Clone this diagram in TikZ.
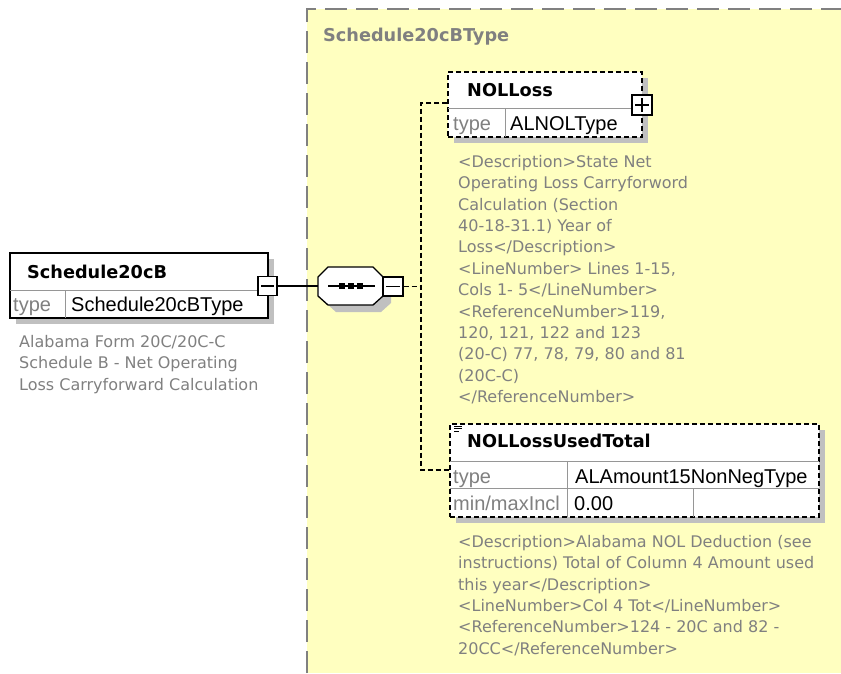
\documentclass[tikz,border=0pt]{standalone}
\usepackage{fontspec}
\setmainfont{DejaVu Sans}
\newfontfamily\arialfont{Liberation Sans}
\usetikzlibrary{shadows}
\definecolor{typebg}{RGB}{255,255,192}
\definecolor{descgray}{RGB}{128,128,128}
\definecolor{shadowgray}{RGB}{192,192,192}
\definecolor{rulegray}{RGB}{150,150,150}
\tikzstyle{elem}=[rectangle,draw=black,fill=white,line width=1.3pt,inner sep=0,drop shadow={shadow xshift=6pt,shadow yshift=-6pt,fill=shadowgray,opacity=1}]
\tikzstyle{optelem}=[elem,dash pattern=on 5pt off 3pt]
\tikzstyle{togbox}=[rectangle,draw=black,fill=white,line width=1.2pt,inner sep=0,minimum size=19pt]
\tikzset{
  elname/.style={
    anchor=base west,
    inner sep=0,
    font=\bfseries\fontsize{17.7}{20}\selectfont
  }
}
\tikzset{
  typelbl/.style={
    anchor=base west,
    inner sep=0,
    text=descgray,
    font=\arialfont\fontsize{20}{22}\selectfont
  }
}
\tikzset{
  typeval/.style={
    anchor=base west,
    inner sep=0,
    font=\arialfont\fontsize{20}{22}\selectfont
  }
}
\tikzset{
  desc/.style={
    anchor=north west,
    inner sep=0,
    align=left,
    text=descgray,
    font=\fontsize{16}{21.4}\selectfont
  }
}
\tikzset{seqbox/.style={rectangle,inner sep=0,minimum width=65pt,minimum height=38pt}}
\tikzset{link/.style={draw=black,line width=1.3pt}}
\tikzset{dlink/.style={draw=black,line width=1.3pt,dash pattern=on 5pt off 3pt}}

\begin{document}
\begin{tikzpicture}[x=1pt,y=-1pt]
\useasboundingbox (0,0) rectangle (841,673);

% complex type area
\fill[typebg] (307,9) rectangle (841,673);
\draw[descgray,line width=2pt,dash pattern=on 22pt off 9pt] (307,673) -- (307,9) -- (841,9);
\node[elname,text=descgray] (tname) at (323,41) {Schedule20cBType};

% root element
\node[elem,minimum width=258pt,minimum height=65pt] (s20b) at (139,285.5) {};
\draw[rulegray] (10,290) -- (268,290);
\draw[rulegray] (65,290) -- (65,318);
\node[elname] (s20bname) at (27,278) {Schedule20cB};
\node[typelbl] (s20btl) at (13,311.5) {type};
\node[typeval] (s20btv) at (71,311.5) {Schedule20cBType};
\node[togbox] (s20m) at (267.5,286) {};
\draw[line width=1.2pt] ([xshift=4pt]s20m.west) -- ([xshift=-4pt]s20m.east);
\node[desc] (s20bdesc) at (19,335) {Alabama Form 20C/20C-C\\Schedule B - Net Operating\\Loss Carryforward Calculation};

% sequence
\node[seqbox] (seq) at (350.5,286) {};
\fill[shadowgray] (326,284) -- (336,274) -- (381,274) -- (391,284) -- (391,303) -- (381,312) -- (336,312) -- (326,303) -- cycle;
\draw[fill=white,line width=1.3pt] (318,277) -- (328,267) -- (373,267) -- (383,277) -- (383,296) -- (373,305) -- (328,305) -- (318,296) -- cycle;
\draw[line width=1.2pt] (328,286) -- (375,286);
\foreach \x in {342,351,360}
  \fill (\x-3,283) rectangle (\x+3,289);
\node[togbox,minimum width=20pt] (seqm) at (393,286.5) {};
\draw[line width=1.2pt] ([xshift=4pt]seqm.west) -- ([xshift=-4pt]seqm.east);

\draw[link] (s20m) -- (seq);

% NOLLoss
\node[optelem,minimum width=194pt,minimum height=65pt] (nolloss) at (545,104.5) {};
\draw[rulegray] (448,108) -- (642,108);
\draw[rulegray] (505,108) -- (505,137);
\node[elname] (nolname) at (467,96) {NOLLoss};
\node[typelbl] (noltl) at (453,130) {type};
\node[typeval] (noltv) at (510,130) {ALNOLType};
\node[togbox,minimum size=20pt] (nolp) at (642,105) {};
\draw[line width=1.2pt] ([xshift=4pt]nolp.west) -- ([xshift=-4pt]nolp.east);
\draw[line width=1.2pt] ([yshift=-4pt]nolp.north) -- ([yshift=4pt]nolp.south);
\node[desc] (noldesc) at (458,155) {<Description>State Net\\Operating Loss Carryforword\\Calculation (Section\\40-18-31.1) Year of\\Loss</Description>\\<LineNumber> Lines 1-15,\\Cols 1- 5</LineNumber>\\<ReferenceNumber>119,\\120, 121, 122 and 123\\(20-C) 77, 78, 79, 80 and 81\\(20C-C)\\</ReferenceNumber>};

% NOLLossUsedTotal
\node[optelem,minimum width=369pt,minimum height=93pt] (noltot) at (634.5,470.5) {};
\draw[rulegray] (450,461) -- (819,461);
\draw[rulegray] (450,488) -- (819,488);
\draw[rulegray] (567,461) -- (567,517);
\draw[rulegray] (693,488) -- (693,517);
\draw[line width=0.8pt] (454,426) -- (462,426);
\draw[line width=0.8pt] (454,428.5) -- (462,428.5);
\draw[line width=0.8pt] (454,431) -- (459,431);
\node[elname] (totname) at (467,447) {NOLLossUsedTotal};
\node[typelbl] (tottl) at (453,483) {type};
\node[typeval] (tottv) at (575,483) {ALAmount15NonNegType};
\node[typelbl] (totml) at (453,510) {min/maxIncl};
\node[typeval] (totmv) at (574,510) {0.00};
\node[desc] (totdesc) at (458,535) {<Description>Alabama NOL Deduction (see\\instructions) Total of Column 4 Amount used\\this year</Description>\\<LineNumber>Col 4 Tot</LineNumber>\\<ReferenceNumber>124 - 20C and 82 -\\20CC</ReferenceNumber>};

% dashed links to children
\coordinate (jt) at (421,103);
\coordinate (jb) at (421,470);
\draw[dlink] (seqm.east) -- (seqm.east -| jt);
\draw[dlink] (nolloss.west |- jt) -- (jt) -- (jb) -- (noltot.west |- jb);

\end{tikzpicture}
\end{document}
